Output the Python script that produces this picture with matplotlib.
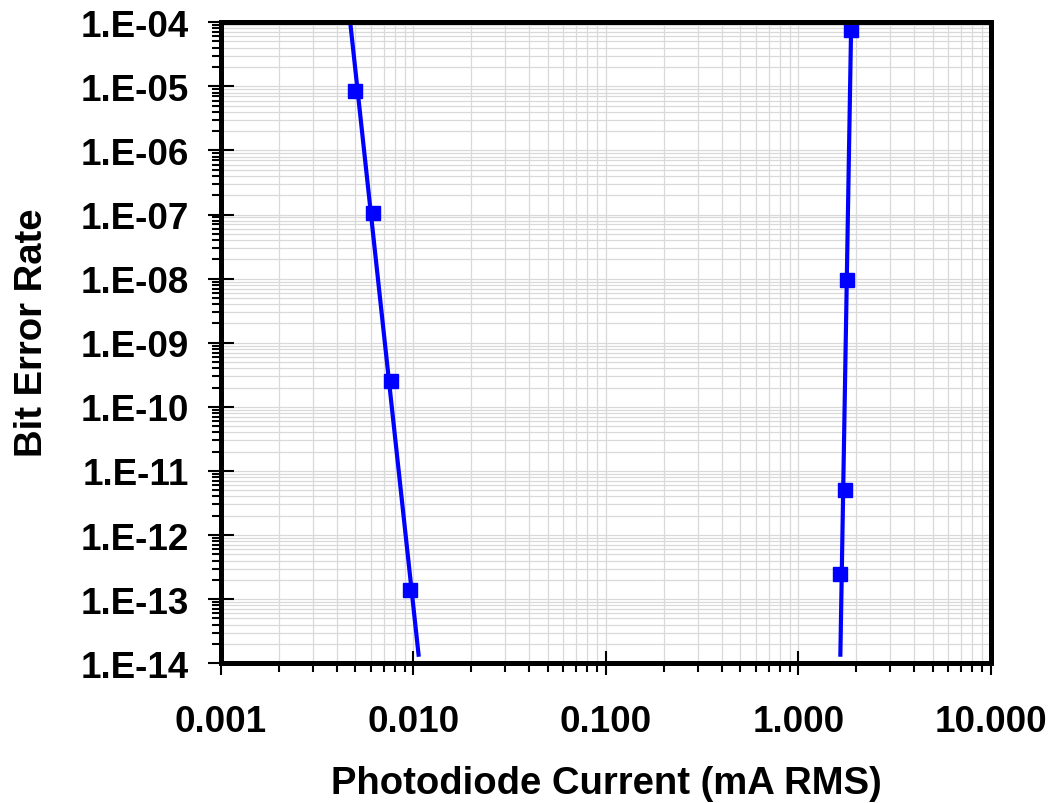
import numpy as np
import matplotlib
matplotlib.use("Agg")
import matplotlib.pyplot as plt
from matplotlib.ticker import LogLocator, FixedLocator, FuncFormatter, NullFormatter

# ---- data ----
left_current = [0.00498, 0.00617, 0.00768, 0.00957]
left_ber = [8.5e-6, 1.05e-7, 2.55e-10, 1.40e-13]
right_current = [1.868, 1.787, 1.741, 1.649]
right_ber = [7.5e-5, 9.5e-9, 5.0e-12, 2.5e-13]

x_ticks = [0.001, 0.01, 0.1, 1.0, 10.0]
x_tick_labels = ["0.001", "0.010", "0.100", "1.000", "10.000"]
y_ticks = [10.0 ** e for e in range(-14, -3)]
y_tick_labels = ["1.E-%02d" % (-e) for e in range(-14, -3)]

trend_bottom_ber = 1.26e-14   # where the fitted lines stop at the bottom
left_trend_top_ber = 1e-3     # left fit continues past the top of the axes

plt.rcParams['font.family'] = ['Liberation Sans', 'DejaVu Sans']
plt.rcParams['font.weight'] = 'bold'

fig = plt.figure(figsize=(10.56, 8.04), dpi=100)
W, H = 1056, 804
ax = fig.add_axes([220.8 / W, 1 - 664.2 / H, (991 - 220.8) / W, (664.2 - 23.2) / H])
ax.set_xscale('log')
ax.set_yscale('log')
ax.set_xlim(0.001, 10)
ax.set_ylim(1e-14, 1e-4)

blue = '#0000ff'


def trend(xs, ys, y_top, y_bot):
    lx = np.log10(xs)
    ly = np.log10(ys)
    b, a = np.polyfit(ly, lx, 1)
    yy = np.logspace(np.log10(y_top), np.log10(y_bot), 50)
    return 10 ** (a + b * np.log10(yy)), yy


tx, ty = trend(left_current, left_ber, left_trend_top_ber, trend_bottom_ber)
ax.plot(tx, ty, color=blue, lw=3.0, zorder=3, solid_capstyle='butt')
tx, ty = trend(right_current, right_ber, right_ber[0], trend_bottom_ber)
ax.plot(tx, ty, color=blue, lw=3.0, zorder=3, solid_capstyle='butt')

ax.plot(left_current, left_ber, 's', color=blue, ms=10.5, mec=blue, zorder=4)
ax.plot(right_current, right_ber, 's', color=blue, ms=10.5, mec=blue, zorder=4)

# ticks
ax.xaxis.set_major_locator(FixedLocator(x_ticks))
ax.xaxis.set_major_formatter(FuncFormatter(
    lambda v, p: x_tick_labels[int(np.argmin([abs(np.log10(t) - np.log10(v)) for t in x_ticks]))]))
ax.xaxis.set_minor_locator(LogLocator(base=10, subs=np.arange(2, 10), numticks=20))
ax.xaxis.set_minor_formatter(NullFormatter())
ax.yaxis.set_major_locator(FixedLocator(y_ticks))
ax.yaxis.set_major_formatter(FuncFormatter(
    lambda v, p: y_tick_labels[int(np.argmin([abs(np.log10(t) - np.log10(v)) for t in y_ticks]))]))
ax.yaxis.set_minor_locator(LogLocator(base=10, subs=np.arange(2, 10), numticks=20))
ax.yaxis.set_minor_formatter(NullFormatter())

ax.tick_params(axis='x', which='major', direction='inout', length=17.3, width=1.5,
               pad=20.5, labelsize=26.5)
ax.tick_params(axis='y', which='major', direction='inout', length=18.7, width=1.5,
               pad=13.5, labelsize=26.5)
ax.tick_params(axis='both', which='minor', direction='out', length=6.5, width=1.5)
ax.tick_params(top=False, right=False)

ax.grid(True, which='both', color='#d9d9d9', lw=0.9)
ax.set_axisbelow(True)

for s in ax.spines.values():
    s.set_linewidth(3.6)
    s.set_zorder(5)

ax.set_xlabel("Photodiode Current (mA RMS)", fontsize=27.5, fontweight='bold')
ax.set_ylabel("Bit Error Rate", fontsize=27.5, fontweight='bold')
ax.xaxis.set_label_coords(0.5, (664.2 - 766) / 641)
ax.yaxis.set_label_coords((50 - 220.8) / 770.2, 1 - (333 - 23.2) / 641)

fig.savefig("out.png", dpi=100)
